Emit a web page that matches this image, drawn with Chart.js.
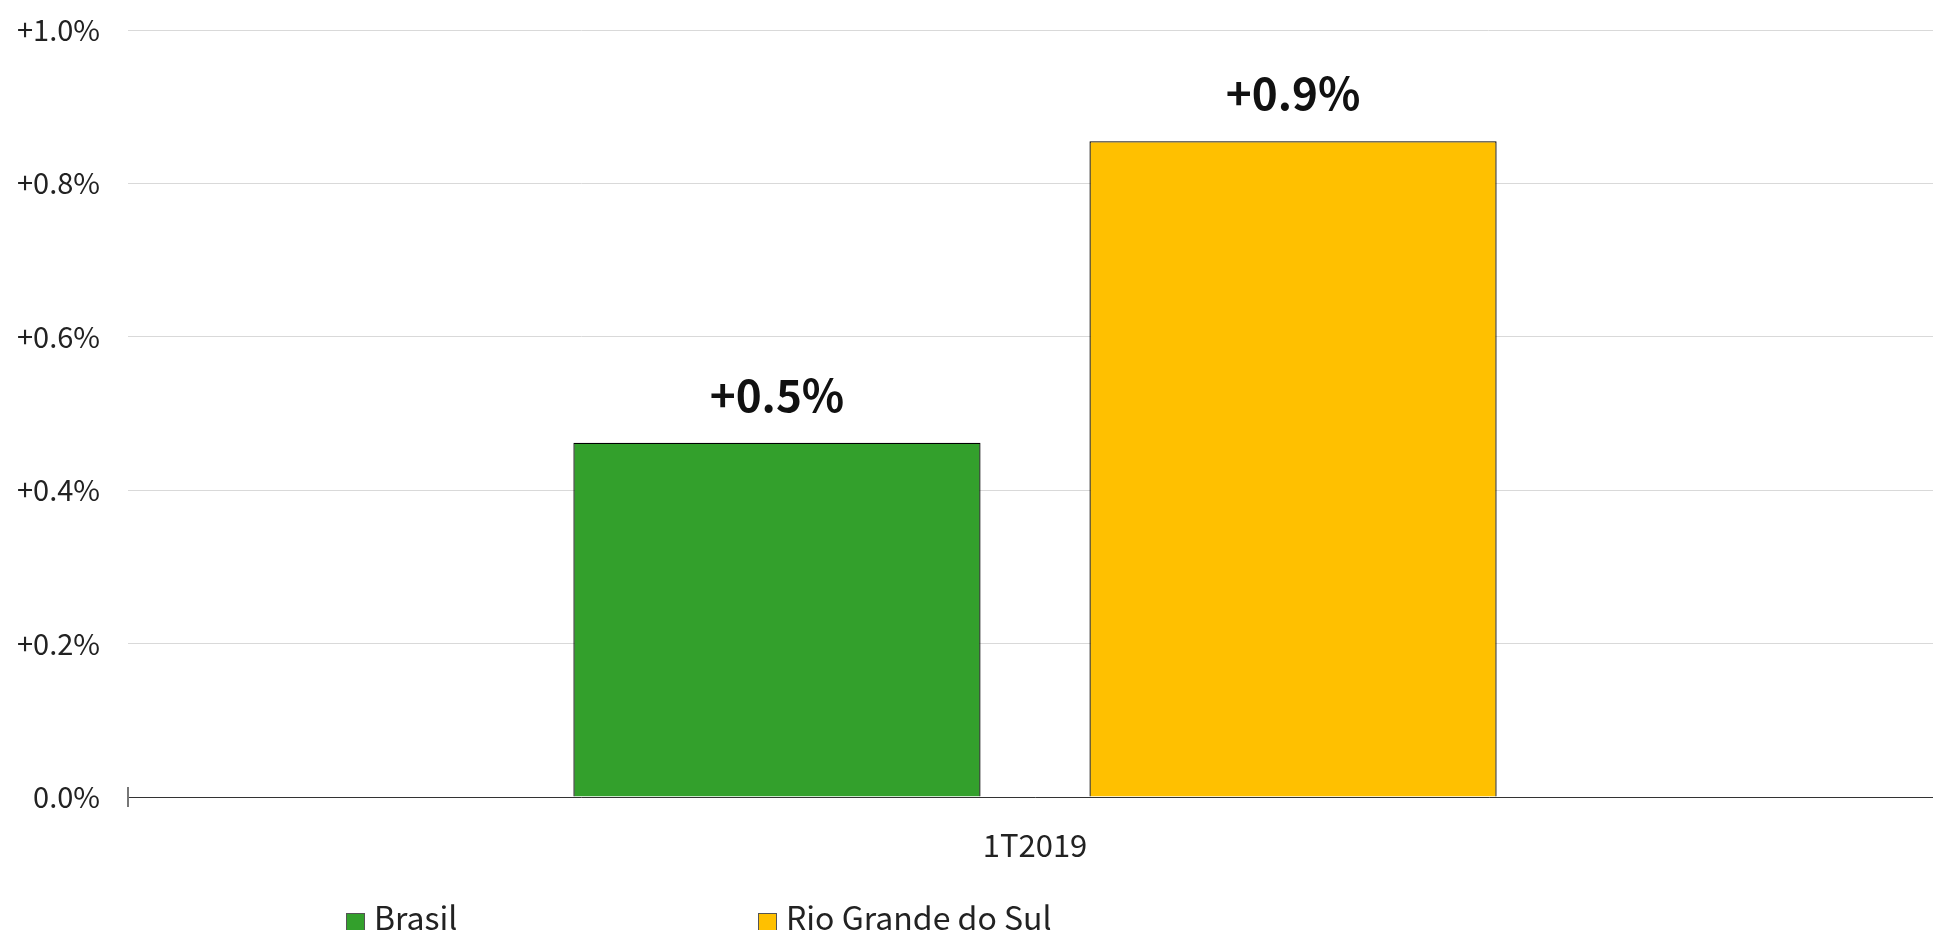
<!DOCTYPE html>
<html>
<head>
<meta charset="utf-8">
<script src="https://cdn.jsdelivr.net/npm/chart.js@4.4.0/dist/chart.umd.min.js"></script>
<style>
    body { margin: 0; overflow: hidden; background: #fff; }
    #wrap { position: relative; width: 1933px; height: 930px; overflow: hidden; }
    #lienzo { position: absolute; left: 0; top: 0; width: 1942px; height: 930px; }
    .leyenda { position: absolute; top: 896px; font-family: "Noto Sans CJK JP", "Noto Sans", sans-serif; font-size: 32px; color: #222; line-height: 40px; white-space: nowrap; }
    .leyenda span.caja { display: inline-block; width: 17px; height: 17px; border: 1px solid #555; margin-right: 9px; vertical-align: -2px; }
</style>
</head>
<body>
<div id="wrap">
    <div id="lienzo"><canvas id="grafico"></canvas></div>
    <div class="leyenda" style="left:346px"><span class="caja" style="background:#33a02c"></span>Brasil</div>
    <div class="leyenda" style="left:758px"><span class="caja" style="background:#ffc000"></span>Rio Grande do Sul</div>
</div>
<script>
const categorias = ['1T2019'];
const series = ['Brasil', 'Rio Grande do Sul'];
const valoresBrasil = [0.462];
const valoresRS = [0.855];
const ticksY = [0, 0.2, 0.4, 0.6, 0.8, 1.0];

const fuente = '"Noto Sans CJK JP", "Noto Sans", sans-serif';

function formatoPct(v) {
    const txt = v.toFixed(1) + '%';
    return v > 0 ? '+' + txt : txt;
}

// etiquetas encima de cada barra
const etiquetasBarras = {
    id: 'etiquetasBarras',
    afterDatasetsDraw(chart) {
        const ctx = chart.ctx;
        ctx.save();
        ctx.font = 'bold 44px ' + fuente;
        ctx.fillStyle = '#111';
        ctx.textAlign = 'center';
        ctx.textBaseline = 'alphabetic';
        chart.data.datasets.forEach((ds, i) => {
            chart.getDatasetMeta(i).data.forEach((barra, j) => {
                ctx.fillText(formatoPct(ds.data[j]), barra.x, barra.y - 31);
            });
        });
        ctx.restore();
    }
};

// marca pequeña al inicio del eje x
const marcaEje = {
    id: 'marcaEje',
    afterDraw(chart) {
        const a = chart.chartArea;
        const ctx = chart.ctx;
        ctx.save();
        ctx.strokeStyle = '#777';
        ctx.lineWidth = 2;
        ctx.beginPath();
        ctx.moveTo(a.left, a.bottom - 10);
        ctx.lineTo(a.left, a.bottom + 10);
        ctx.stroke();
        ctx.restore();
    }
};

const ctx = document.getElementById('grafico').getContext('2d');
new Chart(ctx, {
    type: 'bar',
    data: {
        labels: categorias,
        datasets: [{
            label: series[0],
            data: valoresBrasil,
            backgroundColor: '#33a02c',
            borderColor: '#000',
            borderWidth: 1.3,
            categoryPercentage: 0.569,
            barPercentage: 0.789
        }, {
            label: series[1],
            data: valoresRS,
            backgroundColor: '#ffc000',
            borderColor: '#000',
            borderWidth: 1.3,
            categoryPercentage: 0.569,
            barPercentage: 0.789
        }]
    },
    options: {
        responsive: true,
        maintainAspectRatio: false,
        animation: false,
        layout: { padding: { top: 30, right: 0, bottom: 0, left: 0 } },
        plugins: {
            legend: { display: false },
            tooltip: { enabled: false }
        },
        scales: {
            x: {
                grid: { display: false },
                border: { display: true, color: '#333', width: 1 },
                ticks: { color: '#222', padding: 22, font: { family: fuente, size: 31 } },
                afterFit(scale) { scale.height = 133; }
            },
            y: {
                min: 0,
                max: 1,
                afterBuildTicks(scale) { scale.ticks = ticksY.map(v => ({ value: v })); },
                grid: { color: '#d9d9d9', lineWidth: 1, drawTicks: false },
                border: { display: false },
                ticks: {
                    color: '#222',
                    padding: 28,
                    font: { family: fuente, size: 29 },
                    callback: v => formatoPct(v)
                },
                afterFit(scale) {
                    scale.width = 128;
                    scale.paddingTop = 0;
                    scale.paddingBottom = 0;
                }
            }
        }
    },
    plugins: [etiquetasBarras, marcaEje]
});
</script>
</body>
</html>
